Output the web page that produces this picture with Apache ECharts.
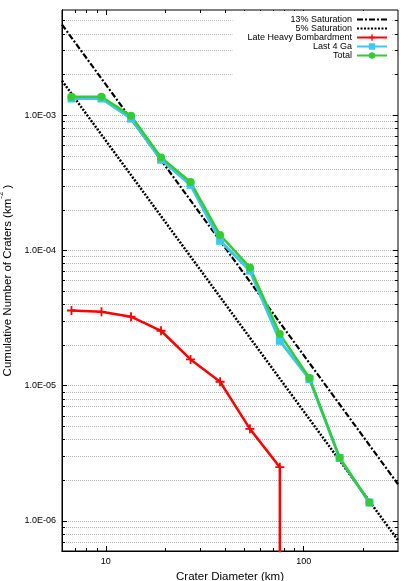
<!DOCTYPE html>
<html><head><meta charset="utf-8">
<script src="https://cdn.jsdelivr.net/npm/echarts@6/dist/echarts.min.js"></script>
<style>html,body{margin:0;padding:0;background:#fff}#c{width:415px;height:581px}</style>
</head><body><div id="c"></div>
<script>
// ---- data ----
const diameters = [6.7, 9.5, 13.4, 19, 26.8, 37.8, 53.5, 75.8, 107, 152, 215];
const totalValues = [1.37e-3, 1.37e-3, 9.9e-4, 4.88e-4, 3.21e-4, 1.30e-4, 7.5e-5, 2.41e-5, 1.14e-5, 2.93e-6, 1.37e-6];
const last4GaValues = [1.33e-3, 1.33e-3, 9.45e-4, 4.69e-4, 3.06e-4, 1.18e-4, 7.1e-5, 2.15e-5, 1.12e-5, 2.92e-6, 1.37e-6];
const lhbDiameters = [6.7, 9.5, 13.4, 19, 26.8, 37.8, 53.5, 75.8, 75.8];
const lhbValues = [3.6e-5, 3.52e-5, 3.24e-5, 2.55e-5, 1.565e-5, 1.07e-5, 4.8e-6, 2.5e-6, 1e-9];
const satDiameters = [6, 300];
const sat13Values = [4.68e-3, 1.87e-6];
const sat5Values = [1.80e-3, 7.2e-7];
const seriesNames = ['13% Saturation', '5% Saturation', 'Late Heavy Bombardment', 'Last 4 Ga', 'Total'];
const xMajorTicks = [10, 100];
const xTickLabels = ['10', '100'];
const xMinorTicks = [7, 8, 9, 20, 30, 40, 50, 60, 70, 80, 90, 200];
const yMajorTicks = [1e-6, 1e-5, 1e-4, 1e-3];
const yTickLabels = ['1.0E-06', '1.0E-05', '1.0E-04', '1.0E-03'];
const yMinorTicks = [7e-7, 8e-7, 9e-7,
  2e-6, 3e-6, 4e-6, 5e-6, 6e-6, 7e-6, 8e-6, 9e-6,
  2e-5, 3e-5, 4e-5, 5e-5, 6e-5, 7e-5, 8e-5, 9e-5,
  2e-4, 3e-4, 4e-4, 5e-4, 6e-4, 7e-4, 8e-4, 9e-4,
  2e-3, 3e-3, 4e-3, 5e-3];
const xRange = [6, 300];
const yRange = [6e-7, 6e-3];

const pairs = (xs, ys) => xs.map((x, i) => [x, ys[i]]);
const near = (a, b) => Math.abs(Math.log10(a) - Math.log10(b)) < 1e-6;
const FONT = 'Liberation Sans, Arial, sans-serif';

function xAx(pos, ticks, len, labels, extra) {
  return Object.assign({
    type: 'log', logBase: 10, position: pos, min: xRange[0], max: xRange[1],
    axisLine: { show: pos === 'bottom', onZero: false, lineStyle: { color: '#000', width: 1 } },
    axisTick: { show: true, inside: true, length: len, customValues: ticks, lineStyle: { color: '#000', width: 1 } },
    axisLabel: labels ? {
      show: true, customValues: xMajorTicks, margin: 6, fontSize: 9, color: '#000', fontFamily: FONT,
      formatter: v => { const i = xMajorTicks.findIndex(t => near(t, v)); return i >= 0 ? xTickLabels[i] : ''; }
    } : { show: false },
    splitLine: { show: false }
  }, extra || {});
}
function yAx(pos, ticks, len, labels, extra) {
  return Object.assign({
    type: 'log', logBase: 10, position: pos, min: yRange[0], max: yRange[1],
    axisLine: { show: pos === 'left', onZero: false, lineStyle: { color: '#000', width: 1 } },
    axisTick: { show: true, inside: true, length: len, customValues: ticks, lineStyle: { color: '#000', width: 1 } },
    axisLabel: labels ? {
      show: true, customValues: yMajorTicks, margin: 6, fontSize: 9, color: '#000', fontFamily: FONT,
      formatter: v => { const i = yMajorTicks.findIndex(t => near(t, v)); return i >= 0 ? yTickLabels[i] : ''; }
    } : { show: false },
    splitLine: { show: pos === 'left', lineStyle: { color: '#b4b4b4', width: 1, type: 'dotted' } }
  }, extra || {});
}

const plusPath = 'path://M4,0h2v4h4v2h-4v4h-2v-4h-4v-2h4z';

const chart = echarts.init(document.getElementById('c'), null, { renderer: 'canvas' });
chart.setOption({
  animation: false,
  backgroundColor: '#fff',
  grid: { left: 62, right: 17, top: 10, bottom: 30, containLabel: false, outerBoundsMode: 'none',
          show: true, borderColor: '#000', borderWidth: 1, backgroundColor: 'transparent' },
  legend: {
    orient: 'vertical', align: 'right', right: 23, top: 11,
    padding: [4, 4, 20, 15], backgroundColor: '#fff',
    itemWidth: 30, itemHeight: 8, itemGap: 0,
    textStyle: { fontSize: 9, color: '#000', fontFamily: FONT, lineHeight: 8 },
    data: [
      { name: seriesNames[0], itemStyle: { opacity: 0 } },
      { name: seriesNames[1], itemStyle: { opacity: 0 } },
      seriesNames[2], seriesNames[3], seriesNames[4]
    ]
  },
  xAxis: [
    xAx('bottom', xMajorTicks, 5, true, {
      name: 'Crater Diameter (km)', nameLocation: 'middle', nameGap: 16,
      nameTextStyle: { fontSize: 11.5, color: '#000', fontFamily: FONT, verticalAlign: 'top' }
    }),
    xAx('bottom', xMinorTicks, 3, false),
    xAx('top', xMajorTicks, 5, false),
    xAx('top', xMinorTicks, 3, false)
  ],
  yAxis: [
    yAx('left', yMajorTicks, 5, true, {
      name: '{a|Cumulative Number of Craters (km}{s|-2}{a| )}', nameLocation: 'middle', nameGap: 38, nameRotate: 90,
      nameTextStyle: {
        color: '#000', fontFamily: FONT,
        rich: {
          a: { fontSize: 11.5, color: '#000', fontFamily: FONT, lineHeight: 17, verticalAlign: 'bottom' },
          s: { fontSize: 8, color: '#000', fontFamily: FONT, lineHeight: 9, verticalAlign: 'top' }
        }
      }
    }),
    yAx('left', yMinorTicks, 3, false),
    yAx('right', yMajorTicks, 5, false),
    yAx('right', yMinorTicks, 3, false)
  ],
  series: [
    { name: seriesNames[0], type: 'line', data: pairs(satDiameters, sat13Values), symbol: 'none',
      lineStyle: { color: '#000', width: 2.2, type: [6, 2, 2, 2] }, itemStyle: { color: '#000' } },
    { name: seriesNames[1], type: 'line', data: pairs(satDiameters, sat5Values), symbol: 'none',
      lineStyle: { color: '#000', width: 2.5, type: [2, 1.5] }, itemStyle: { color: '#000' } },
    { name: seriesNames[2], type: 'line', data: pairs(lhbDiameters, lhbValues), symbol: plusPath, symbolSize: 9,
      clip: true, lineStyle: { color: '#ff0000', width: 2.5 }, itemStyle: { color: '#ff0000' } },
    { name: seriesNames[3], type: 'line', data: pairs(diameters, last4GaValues), symbol: 'rect', symbolSize: 8,
      lineStyle: { color: '#3cc8f0', width: 3 }, itemStyle: { color: '#3cc8f0' } },
    { name: seriesNames[4], type: 'line', data: pairs(diameters, totalValues), symbol: 'circle', symbolSize: 8,
      lineStyle: { color: '#33cc33', width: 2.5 }, itemStyle: { color: '#33cc33' } }
  ]
});
</script></body></html>
